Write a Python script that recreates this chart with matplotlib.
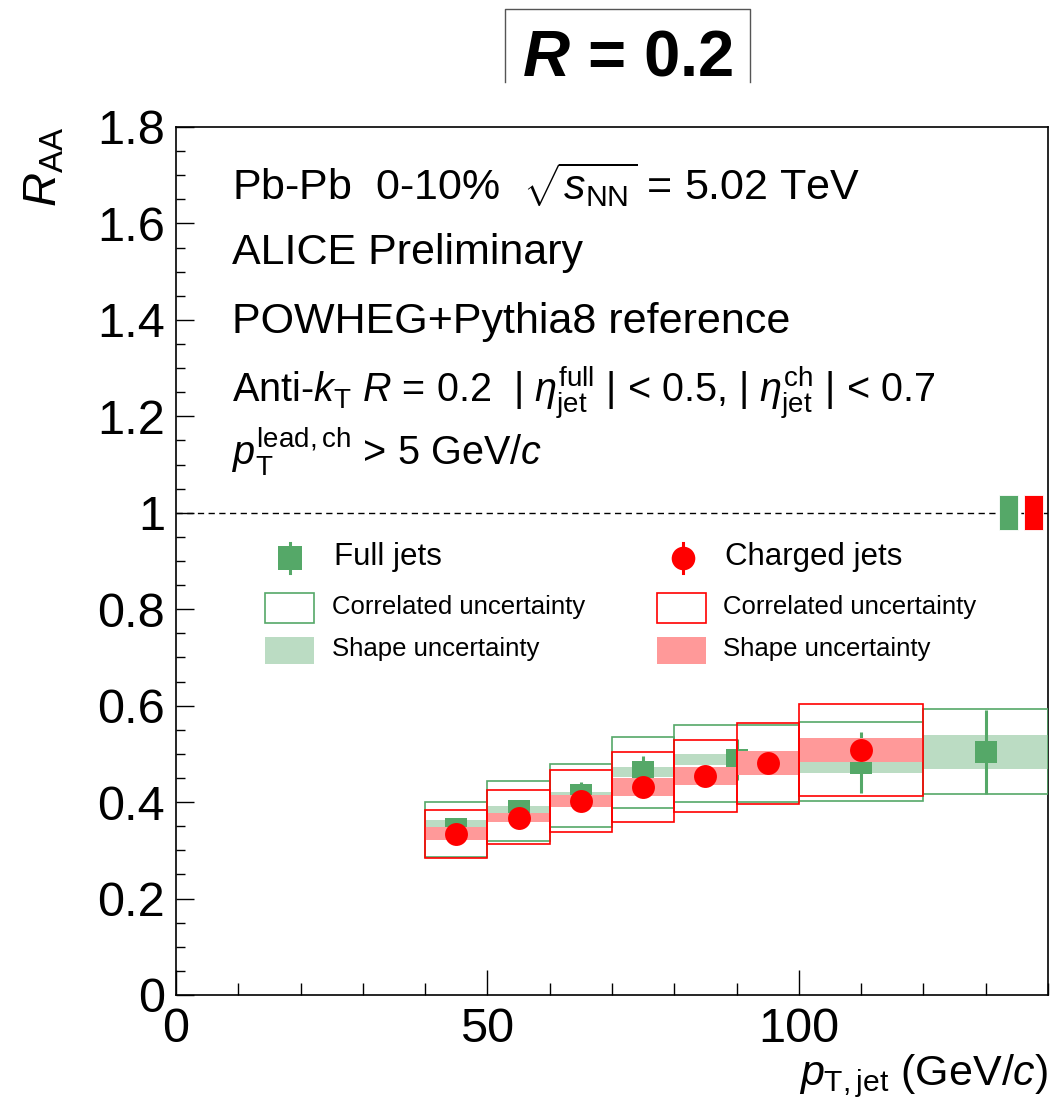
import matplotlib
import matplotlib.pyplot as plt
from matplotlib.lines import Line2D
from matplotlib.patches import Rectangle

matplotlib.use("Agg")

plt.rcParams["font.family"] = ["Liberation Sans", "DejaVu Sans"]
plt.rcParams["mathtext.fontset"] = "custom"
plt.rcParams["mathtext.rm"] = "Liberation Sans"
plt.rcParams["mathtext.it"] = "Liberation Sans:italic"
plt.rcParams["mathtext.bf"] = "Liberation Sans:bold"
plt.rcParams["mathtext.bfit"] = "Liberation Sans:bold:italic"

GREEN = "#55A868"
GREEN_BAND = "#BBDCC3"
RED = "#FF0000"
RED_BAND = "#FF9999"

# full jets
full_lo = [40, 50, 60, 70, 80, 100, 120]
full_hi = [50, 60, 70, 80, 100, 120, 140]
full_x = [45, 55, 65, 75, 90, 110, 130]
full_raa = [0.345, 0.382, 0.414, 0.462, 0.488, 0.482, 0.504]
full_stat = [0.010, 0.012, 0.027, 0.034, 0.042, 0.063, 0.088]
full_shape = [0.018, 0.010, 0.006, 0.010, 0.012, 0.021, 0.035]
full_corr_lo = [0.287, 0.320, 0.348, 0.387, 0.401, 0.402, 0.416]
full_corr_hi = [0.401, 0.443, 0.479, 0.536, 0.560, 0.566, 0.593]

# charged jets
ch_lo = [40, 50, 60, 70, 80, 90, 100]
ch_hi = [50, 60, 70, 80, 90, 100, 120]
ch_x = [45, 55, 65, 75, 85, 95, 110]
ch_raa = [0.334, 0.368, 0.402, 0.431, 0.454, 0.481, 0.508]
ch_stat = [0.006, 0.006, 0.007, 0.008, 0.009, 0.010, 0.012]
ch_shape = [0.0135, 0.0085, 0.0125, 0.018, 0.019, 0.0255, 0.024]
ch_corr_lo = [0.285, 0.313, 0.337, 0.358, 0.379, 0.396, 0.413]
ch_corr_hi = [0.384, 0.425, 0.467, 0.503, 0.529, 0.564, 0.604]

# normalisation uncertainty (full, charged)
norm_unc = [0.036, 0.036]
norm_colors = [GREEN, RED]

X_MAX = 140
Y_MAX = 1.8


def draw_series(ax, lo, hi, x, raa, stat, shape, corr_lo, corr_hi, color, band, marker, z):
    widths = [h - l for l, h in zip(lo, hi)]
    ax.bar(lo, [2 * s for s in shape], bottom=[v - s for v, s in zip(raa, shape)],
           width=widths, align="edge", color=band, linewidth=0, zorder=z)
    ax.bar(lo, [h - l for l, h in zip(corr_lo, corr_hi)], bottom=corr_lo,
           width=widths, align="edge", fill=False, edgecolor=color, linewidth=1.2, zorder=z + 0.1)
    ax.errorbar(x, raa, yerr=stat, fmt=marker, color=color, markersize=16.5,
                elinewidth=2.2, capsize=0, markeredgewidth=0, zorder=z + 0.2)


fig = plt.figure(figsize=(10.55, 11.17), dpi=100)
ax = fig.add_axes([176 / 1055, 1 - 995 / 1117, 872 / 1055, 868 / 1117])

draw_series(ax, full_lo, full_hi, full_x, full_raa, full_stat, full_shape,
            full_corr_lo, full_corr_hi, GREEN, GREEN_BAND, "s", 3)
draw_series(ax, ch_lo, ch_hi, ch_x, ch_raa, ch_stat, ch_shape,
            ch_corr_lo, ch_corr_hi, RED, RED_BAND, "o", 4)

ax.axhline(1, color="black", linewidth=1.0, dashes=(4.5, 3.2), zorder=2)

# normalisation boxes at the right edge
for i, (unc, col) in enumerate(zip(norm_unc, norm_colors)):
    x0 = X_MAX - 7.9 + i * 4.05
    ax.add_patch(Rectangle((x0, 1 - unc), 3.1, 2 * unc, facecolor=col,
                           edgecolor="white", linewidth=0.6, zorder=5))

ax.set_xlim(0, X_MAX)
ax.set_ylim(0, Y_MAX)
ax.set_xticks([0, 50, 100])
ax.set_xticks(range(0, X_MAX + 1, 10), minor=True)
ax.set_yticks([i * 0.2 for i in range(10)])
ax.set_yticks([i * 0.05 for i in range(37)], minor=True)
ax.yaxis.set_major_formatter(plt.FuncFormatter(lambda v, p: f"{v:g}"))
ax.tick_params(axis="both", which="both", direction="in", top=False, right=False,
               labelsize=35, width=1.0)
ax.tick_params(axis="x", which="major", length=18, pad=9)
ax.tick_params(axis="x", which="minor", length=8.6)
ax.tick_params(axis="y", which="major", length=13, pad=8)
ax.tick_params(axis="y", which="minor", length=6.5)
for spine in ax.spines.values():
    spine.set_linewidth(1.2)

ax.set_xlabel(r"$p_{\mathrm{T,jet}}$ (GeV/$c$)", fontsize=31, loc="right", labelpad=0)
ax.set_ylabel(r"$R_{\mathrm{AA}}$", fontsize=34, loc="top", labelpad=22)

# header text
tx = 9
ax.text(tx, 1.649, r"Pb-Pb  0-10%  $\sqrt{s_{\mathrm{NN}}}$ = 5.02 TeV", fontsize=31, va="baseline")
ax.text(tx, 1.515, "ALICE Preliminary", fontsize=31, va="baseline")
ax.text(tx, 1.373, "POWHEG+Pythia8 reference", fontsize=31, va="baseline")
ax.text(tx, 1.230, r"Anti-$k_{\mathrm{T}}$ $R$ = 0.2  | $\eta^{\mathrm{full}}_{\mathrm{jet}}$ | < 0.5, "
        r"| $\eta^{\mathrm{ch}}_{\mathrm{jet}}$ | < 0.7", fontsize=28.5, va="baseline")
ax.text(tx, 1.100, r"$p_{\mathrm{T}}^{\mathrm{lead,ch}}$ > 5 GeV/$c$", fontsize=28.5, va="baseline")


# legend, in axes fractions from pixel positions
def fx(px):
    return (px - 176) / 872


def fy(py):
    return (995 - py) / 868


tr = ax.transAxes
for col, mk, mx, tx_px, label in [(GREEN, "s", 290, 334, "Full jets"),
                                   (RED, "o", 683, 725, "Charged jets")]:
    ax.add_line(Line2D([fx(mx), fx(mx)], [fy(543), fy(573)], color=col, linewidth=2.2, transform=tr))
    ax.add_line(Line2D([fx(mx)], [fy(558)], marker=mk, color=col, markersize=17,
                       markeredgewidth=0, transform=tr))
    ax.text(fx(tx_px), fy(557), label, fontsize=22.5, va="center", transform=tr)

for col, band, bx, tx_px in [(GREEN, GREEN_BAND, 265, 332), (RED, RED_BAND, 657, 723)]:
    ax.add_patch(Rectangle((fx(bx), fy(623)), 49 / 872, 30 / 868, fill=False,
                           edgecolor=col, linewidth=1.2, transform=tr))
    ax.text(fx(tx_px), fy(607), "Correlated uncertainty", fontsize=18.5, va="center", transform=tr)
    ax.add_patch(Rectangle((fx(bx), fy(664)), 49 / 872, 27 / 868, facecolor=band,
                           linewidth=0, transform=tr))
    ax.text(fx(tx_px), fy(649), "Shape uncertainty", fontsize=18.5, va="center", transform=tr)

# R = 0.2 header box (open at the bottom)
box = [(505, 82), (505, 9), (750, 9), (750, 82)]
fig.add_artist(Line2D([p[0] / 1055 for p in box], [1 - p[1] / 1117 for p in box],
                      color="#555555", linewidth=1.0))
fig.text(628 / 1055, 1 - 76 / 1117, r"$\mathbfit{R}$ = 0.2", fontsize=47,
         fontweight="bold", ha="center", va="baseline")

fig.savefig("out.png", dpi=100)
